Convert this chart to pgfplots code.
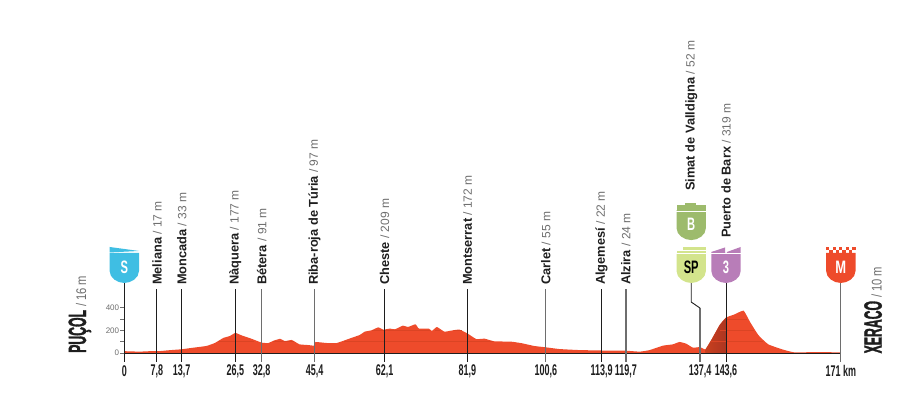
\documentclass[border=0pt]{standalone}
\usepackage{pgfplots}
\pgfplotsset{compat=1.18}
\usepackage{fontspec}
\setmainfont{Liberation Sans}
\newfontfamily\cond[FakeStretch=0.62]{Liberation Sans}
\newfontfamily\condthin[FakeStretch=0.8]{Liberation Sans}
\newfontfamily\condm[FakeStretch=0.72]{Liberation Sans}
\newfontfamily\condt[FakeStretch=0.58]{Liberation Sans}
\newfontfamily\condh[FakeStretch=0.49,FakeBold=1.2]{Liberation Sans}
\definecolor{prof}{HTML}{EE4B2B}
\definecolor{profl}{HTML}{DB4424}
\definecolor{profm}{HTML}{C8401F}
\definecolor{profd}{HTML}{AE3520}
\definecolor{cS}{HTML}{3FBEE3}
\definecolor{cB}{HTML}{9DBB6C}
\definecolor{cSP}{HTML}{D3E48C}
\definecolor{cK}{HTML}{B87DB8}
\definecolor{cM}{HTML}{EE4B2B}
\definecolor{ink}{HTML}{1E1E1E}
\definecolor{gr}{HTML}{6E6E6E}
\newcommand{\lab}[3]{\node[rotate=90,anchor=west,inner sep=0pt,text=ink] at (axis cs:#1,#2) {\fontsize{12.8}{14}\selectfont\textbf{#3}};}
\newcommand{\nm}[2]{#1\fontsize{12}{14}\selectfont\mdseries\color{gr}\ / #2 m}
\newcommand{\shieldbody}[3]{%
  \fill[#3,shift={(axis cs:#1,#2)}] (-14.7pt,30pt) -- (14.7pt,30pt) -- (14.7pt,12pt)
    .. controls (14.7pt,5pt) and (7pt,0pt) .. (0pt,0pt)
    .. controls (-7pt,0pt) and (-14.7pt,5pt) .. (-14.7pt,12pt) -- cycle;}
\newcommand{\chk}[2]{\fill[cM,shift={(axis cs:171,617)}] (#1pt,#2pt) rectangle ++(3.27pt,3pt);}
\newcommand{\whiteline}[2]{\fill[white,shift={(axis cs:#1,#2)}] (-15pt,28.6pt) rectangle (15pt,29.5pt);}
\newcommand{\letter}[4]{\node[text=#4,inner sep=0pt] at ([yshift=15.5pt]axis cs:#1,#2) {\bfseries\cond\fontsize{18}{19}\selectfont #3};}
\newcommand{\hl}[3]{\addplot[profl,line width=0.5pt] coordinates {(#1,#3)(#2,#3)};}
\begin{document}
\begin{tikzpicture}
\useasboundingbox (-124.3pt,-48pt) rectangle (792.7pt,353pt);
\begin{axis}[
  scale only axis, width=716.5pt, height=45.4pt,
  xmin=0, xmax=171, ymin=0, ymax=400, clip=false,
  axis x line*=bottom, axis y line*=left,
  axis line style={ink,line width=0.8pt,-},
  xtick={0,7.8,13.7,26.5,32.8,45.4,62.1,81.9,100.6,113.9,119.7,137.4,143.6,171},
  xticklabels={0,{7,8},{13,7},{26,5},{32,8},{45,4},{62,1},{81,9},{100,6},{113,9},{119,7},{137,4},{143,6},171 km},
  xticklabel style={font=\bfseries\condt\fontsize{15.5}{16}\selectfont,text=ink,yshift=-14pt,inner sep=0pt,anchor=center},
  x tick style={draw=none}, major tick length=4pt,
  ytick={0,100,200,300,400},
  yticklabels={0,,200,,400},
  yticklabel style={font=\fontsize{8}{9}\selectfont,text=gr,inner sep=1pt},
  y tick style={gr,line width=0.6pt},
  tick align=outside,
]
\addplot[fill=prof,draw=none,smooth,tension=0.25] coordinates {
(0,16)(3.7,12)(5.3,15)(7.8,17)(8.5,17)(10.9,25)(13.7,33)(16.5,47)(19.6,62)(21.6,88)(23.6,132)(25.2,150)(26.5,177)
(28,155)(30.4,125)(32.8,91)(34.4,88)(35.6,108)(37.2,125)(38.3,105)(39.9,115)(40.7,100)(41.8,76)(43.9,70)(45.3,65)(45.6,97)
(48.3,88)(50.7,88)(53.9,129)(56.2,159)(57.4,188)(59,200)(60.6,226)(61.8,206)(63.4,215)(64.6,209)(66.5,241)(67.7,229)
(69.5,253)(70.3,215)(72.7,215)(73.4,194)(74.6,229)(76.4,188)(78.4,200)(80,206)(81.9,172)(84,123)(86,126)(88.3,103)
(92.3,100)(95,85)(97.8,62)(100.6,50)(103.8,35)(108.5,26)(113.9,22)(119.7,20)(123,12)(125.4,26)(128.6,65)(130.9,76)
(132.5,97)(134.1,82)(135.7,47)(137.4,52)(138.7,32)(140.1,115)(142.1,247)(143.6,312)(145.7,341)(147.8,373)(149.3,276)
(151.3,159)(153.7,76)(157.3,29)(160,5)(164.4,8)(170.8,6)(171,10)} \closedcycle;
\addplot[left color=profm,right color=profd,draw=none] coordinates {(138.7,32)(140.1,115)(142.1,247)(143.6,312)} \closedcycle;
% faint level lines inside the profile
\hl{22.4}{31}{100}\hl{35.6}{40.4}{100}\hl{52.4}{88}{100}\hl{140}{152.4}{100}
\hl{59.2}{73}{200}\hl{74.2}{75.4}{200}\hl{78.6}{80.6}{200}\hl{142.2}{150.4}{200}
\hl{143.5}{148.7}{300}
% vertical markers
\addplot[ink,line width=1pt] coordinates {(7.8,-79)(7.8,564)};
\addplot[ink,line width=1pt] coordinates {(13.7,-79)(13.7,564)};
\addplot[ink,line width=1pt] coordinates {(26.5,-79)(26.5,564)};
\addplot[gr,line width=1.3pt] coordinates {(32.8,-79)(32.8,564)};
\addplot[gr,line width=1.3pt] coordinates {(45.4,-79)(45.4,564)};
\addplot[ink,line width=1pt] coordinates {(62.1,-79)(62.1,564)};
\addplot[ink,line width=1pt] coordinates {(81.9,-79)(81.9,564)};
\addplot[gr,line width=1.3pt] coordinates {(100.6,-79)(100.6,564)};
\addplot[ink,line width=1pt] coordinates {(113.9,-79)(113.9,564)};
\addplot[gr,line width=1.3pt] coordinates {(119.7,-79)(119.7,564)};
\addplot[gr,line width=1.3pt] coordinates {(137.4,-79)(137.4,396)};
\addplot[ink,line width=0.9pt] coordinates {(137.4,396)(135.3,449)(135.3,620)};
\addplot[ink,line width=1pt] coordinates {(143.6,-79)(143.6,620)};
\addplot[gr,line width=1.3pt] coordinates {(171,-79)(171,620)};
\addplot[ink,line width=1pt] coordinates {(0,-79)(0,620)};
% labels
\lab{7.8}{599}{\nm{Meliana}{17}}
\lab{13.7}{599}{\nm{Moncada}{33}}
\lab{26.5}{599}{\nm{Nàquera}{177}}
\lab{32.8}{599}{\nm{Bétera}{91}}
\lab{45.4}{599}{\nm{Riba-roja de Túria}{97}}
\lab{62.1}{599}{\nm{Cheste}{209}}
\lab{81.9}{599}{\nm{Montserrat}{172}}
\lab{100.6}{599}{\nm{Carlet}{55}}
\lab{113.9}{599}{\nm{Algemesí}{22}}
\lab{119.7}{599}{\nm{Alzira}{24}}
\lab{135.3}{1428}{\nm{Simat de Valldigna}{52}}
\lab{143.6}{1013}{\nm{Puerto de Barx}{319}}
% start / finish
\node[rotate=90,anchor=west,inner sep=0pt,text=ink] at (axis cs:-10.6,0) {\bfseries\condh\fontsize{25}{26}\selectfont PUÇOL\mdseries\condthin\fontsize{14}{16}\selectfont\color{gr}\ / 16 m};
\node[rotate=90,anchor=west,inner sep=0pt,text=ink] at (axis cs:178.7,-5) {\bfseries\condh\fontsize{25}{26}\selectfont XERACO\mdseries\condthin\fontsize{14}{16}\selectfont\color{gr}\ / 10 m};
% shields
\shieldbody{0}{617}{cS}
\fill[cS,shift={(axis cs:0,617)}] (-14.7pt,36pt) -- (14.7pt,32pt) -- (-14.7pt,30.5pt) -- cycle;
\letter{0}{617}{S}{white}
\shieldbody{135.3}{995}{cB}
\fill[cB,shift={(axis cs:135.3,995)}] (-14.7pt,30pt) rectangle (14.7pt,35pt);
\fill[cB,shift={(axis cs:135.3,995)}] (-6.7pt,35pt) rectangle (5pt,37.5pt);
\whiteline{135.3}{995}
\letter{135.3}{995}{B}{white}
\shieldbody{135.3}{617}{cSP}
\fill[cSP,shift={(axis cs:135.3,617)}] (-14.7pt,30pt) rectangle (14.7pt,32pt);
\fill[cSP,shift={(axis cs:135.3,617)}] (-8pt,33pt) rectangle (14.7pt,36pt);
\whiteline{135.3}{617}
\letter{135.3}{617}{SP}{black}
\shieldbody{143.6}{617}{cK}
\fill[cK,shift={(axis cs:143.6,617)}] (-14.7pt,30pt) -- (-14.7pt,31pt) -- (-1pt,35.5pt) -- (-1pt,30pt) -- cycle;
\fill[cK,shift={(axis cs:143.6,617)}] (1pt,30pt) -- (1pt,31pt) -- (14.7pt,36pt) -- (14.7pt,30pt) -- cycle;
\whiteline{143.6}{617}
\letter{143.6}{617}{3}{white}
\shieldbody{171}{617}{cM}
\chk{-14.7}{33}\chk{-8.16}{33}\chk{-1.62}{33}\chk{4.92}{33}\chk{11.46}{33}
\chk{-11.43}{30}\chk{-4.89}{30}\chk{1.65}{30}\chk{8.19}{30}
\node[text=white,inner sep=0pt] at ([yshift=15.5pt]axis cs:171,617) {\bfseries\condm\fontsize{18}{19}\selectfont M};
\end{axis}
\end{tikzpicture}
\end{document}
